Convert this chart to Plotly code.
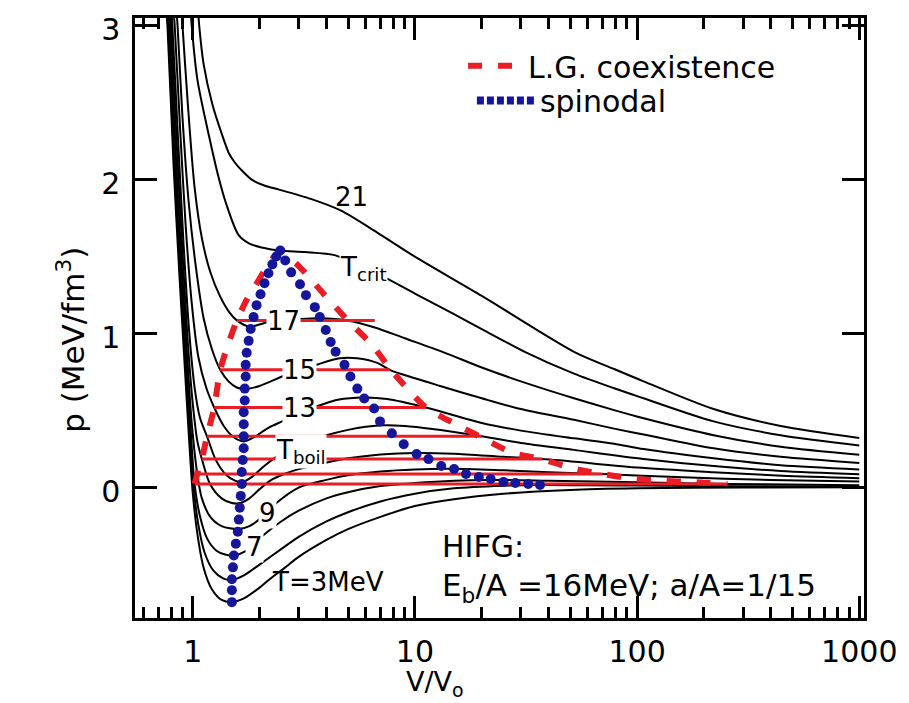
import plotly.graph_objects as go

FONT = "DejaVu Sans"

# ---------------- isotherms (V/Vo , p in MeV/fm^3) ----------------
T21_x = [1.06, 1.07, 1.12, 1.226, 1.35, 1.457, 1.55, 1.65, 1.843, 2.1, 2.43, 3.40, 4.63, 6.77, 10, 20, 52.3, 78.8, 107, 221, 443, 1000]
T21_p = [3.08, 3.0, 2.75, 2.49, 2.3, 2.17, 2.11, 2.065, 2.0, 1.962, 1.937, 1.875, 1.80, 1.656, 1.50, 1.245, 0.88, 0.77, 0.69, 0.51, 0.40, 0.322]

Tcrit_x = [0.98, 0.99, 1.05, 1.186, 1.3, 1.41, 1.61, 1.8, 2.04, 2.48, 3.2, 4.35, 5.5, 7.0, 10, 15, 20, 31.4, 52, 78.8, 107, 221, 443, 1000]
Tcrit_p = [3.1, 3.0, 2.65, 2.28, 2.03, 1.85, 1.64, 1.585, 1.56, 1.54, 1.53, 1.51, 1.45, 1.38, 1.26, 1.126, 1.03, 0.88, 0.74, 0.645, 0.58, 0.43, 0.34, 0.274]

T17_x = [0.89, 0.90, 0.95, 1.02, 1.1, 1.2, 1.33, 1.46, 1.58, 1.8, 2.19, 3.07, 3.7, 4.97, 6.6, 9, 13.4, 20, 30, 52, 78.8, 107, 221, 443, 1000]
T17_p = [3.1, 3.0, 2.5, 1.95, 1.62, 1.4, 1.24, 1.14, 1.086, 1.045, 1.075, 1.095, 1.10, 1.086, 1.04, 0.97, 0.88, 0.78, 0.69, 0.58, 0.503, 0.45, 0.34, 0.265, 0.213]

T15_x = [0.845, 0.855, 0.9, 0.96, 1.03, 1.12, 1.22, 1.33, 1.45, 1.58, 1.715, 2.0, 2.61, 3.64, 4.6, 5.5, 6.77, 7.7, 10, 13, 20, 30, 52, 78.8, 107, 221, 443, 1000]
T15_p = [3.1, 3.0, 2.4, 1.85, 1.45, 1.1, 0.9, 0.765, 0.69, 0.65, 0.64, 0.66, 0.73, 0.80, 0.84, 0.84, 0.81, 0.765, 0.71, 0.66, 0.58, 0.51, 0.44, 0.383, 0.345, 0.255, 0.20, 0.160]

T13_x = [0.82, 0.83, 0.88, 0.93, 0.99, 1.06, 1.15, 1.25, 1.38, 1.52, 1.70, 1.9, 2.2, 2.61, 3.0, 3.66, 4.5, 5.9, 7.5, 11.2, 20, 30, 52, 78.8, 107, 221, 443, 1000]
T13_p = [3.1, 3.0, 2.3, 1.7, 1.2, 0.85, 0.65, 0.52, 0.40, 0.33, 0.30, 0.33, 0.39, 0.44, 0.49, 0.53, 0.57, 0.585, 0.575, 0.52, 0.42, 0.37, 0.32, 0.285, 0.25, 0.19, 0.145, 0.118]

T11_x = [0.80, 0.81, 0.86, 0.91, 0.96, 1.02, 1.08, 1.16, 1.27, 1.42, 1.55, 1.663, 1.85, 2.1, 2.5, 3.0, 4.0, 5.0, 6.0, 7.3, 9, 12, 20, 30, 52, 107, 221, 443, 1000]
T11_p = [3.1, 3.0, 2.25, 1.58, 1.05, 0.65, 0.45, 0.333, 0.18, 0.08, 0.045, 0.035, 0.07, 0.14, 0.22, 0.28, 0.34, 0.375, 0.395, 0.405, 0.40, 0.38, 0.333, 0.29, 0.245, 0.186, 0.14, 0.108, 0.087]

Tboil_x = [0.79, 0.80, 0.85, 0.90, 0.95, 1.0, 1.05, 1.10, 1.2, 1.35, 1.5, 1.64, 1.8, 2.0, 2.26, 2.6, 3.0, 3.93, 5.0, 7.0, 10.2, 15, 25, 37.5, 60, 100, 220, 450, 1000]
Tboil_p = [3.1, 3.0, 2.2, 1.52, 0.95, 0.55, 0.3, 0.185, 0.02, -0.07, -0.10, -0.10, -0.07, -0.01, 0.05, 0.09, 0.12, 0.16, 0.19, 0.215, 0.225, 0.22, 0.2, 0.185, 0.16, 0.13, 0.10, 0.077, 0.061]

T9_x = [0.78, 0.79, 0.84, 0.89, 0.94, 0.99, 1.049, 1.1, 1.2, 1.35, 1.6, 1.8, 2.02, 2.38, 3.0, 4.0, 5.0, 7.0, 10, 15, 25, 40, 70, 150, 400, 1000]
T9_p = [3.1, 3.0, 2.15, 1.48, 0.9, 0.42, 0.088, -0.07, -0.19, -0.25, -0.27, -0.25, -0.2, -0.1, 0.0, 0.05, 0.08, 0.105, 0.118, 0.122, 0.112, 0.1, 0.088, 0.068, 0.05, 0.039]

T7_x = [0.77, 0.78, 0.83, 0.88, 0.93, 0.975, 1.02, 1.08, 1.16, 1.28, 1.4, 1.532, 1.75, 2.04, 2.5, 3, 4, 5, 7, 10, 15, 22, 40, 100, 255, 1000]
T7_p = [3.1, 3.0, 2.12, 1.45, 0.87, 0.42, 0.024, -0.19, -0.33, -0.41, -0.435, -0.44, -0.41, -0.32, -0.22, -0.15, -0.07, -0.03, 0.01, 0.03, 0.045, 0.05, 0.045, 0.035, 0.024, 0.016]

T5_x = [0.765, 0.775, 0.825, 0.875, 0.925, 0.965, 1.01, 1.06, 1.13, 1.24, 1.37, 1.50, 1.7, 2.0, 2.5, 3, 4, 5, 7, 10, 15, 25, 36.6, 60, 100, 300, 1000]
T5_p = [3.1, 3.0, 2.1, 1.42, 0.83, 0.4, 0.0, -0.24, -0.42, -0.54, -0.59, -0.60, -0.57, -0.50, -0.40, -0.32, -0.22, -0.16, -0.09, -0.04, -0.005, 0.012, 0.017, 0.015, 0.013, 0.009, 0.006]

T3_x = [0.76, 0.77, 0.82, 0.87, 0.92, 0.96, 1.0, 1.05, 1.12, 1.22, 1.35, 1.50, 1.7, 2.0, 2.2, 2.6, 3.0, 4.0, 5.0, 7.0, 10, 15, 25, 50, 100, 300, 1000]
T3_p = [3.1, 3.0, 2.1, 1.4, 0.8, 0.35, -0.03, -0.3, -0.52, -0.66, -0.73, -0.744, -0.72, -0.65, -0.60, -0.52, -0.45, -0.34, -0.27, -0.19, -0.12, -0.075, -0.04, -0.015, -0.005, 0.0, 0.002]

isotherms = [(T21_x, T21_p), (Tcrit_x, Tcrit_p), (T17_x, T17_p), (T15_x, T15_p),
             (T13_x, T13_p), (T11_x, T11_p), (Tboil_x, Tboil_p), (T9_x, T9_p),
             (T7_x, T7_p), (T5_x, T5_p), (T3_x, T3_p)]

# ---------------- Maxwell (coexistence) horizontal lines ----------------
maxwell_p = [1.086, 0.765, 0.52, 0.333, 0.185, 0.088, 0.024]
maxwell_xl = [1.58, 1.33, 1.25, 1.16, 1.10, 1.049, 1.02]
maxwell_xr = [6.6, 7.7, 11.2, 20.0, 37.5, 70.0, 255.0]

# ---------------- L.G. coexistence curve ----------------
coex_x = [1.02, 1.049, 1.10, 1.16, 1.25, 1.33, 1.456, 1.58, 1.75, 1.92, 2.19, 2.45, 2.98, 3.93, 4.97, 6.42, 7.8, 11.2, 15.0, 19.5, 27.7, 37.5, 51, 70, 96, 130, 175, 255]
coex_p = [0.024, 0.088, 0.185, 0.333, 0.52, 0.765, 0.946, 1.086, 1.22, 1.314, 1.449, 1.53, 1.443, 1.25, 1.088, 0.927, 0.765, 0.52, 0.418, 0.333, 0.224, 0.185, 0.125, 0.088, 0.058, 0.045, 0.036, 0.024]

# ---------------- spinodal (dots) ----------------
spin_x = [1.501, 1.501, 1.501, 1.517, 1.532, 1.564, 1.596, 1.613, 1.629, 1.646, 1.663, 1.663, 1.680, 1.697,
          1.697, 1.697, 1.697, 1.715, 1.715, 1.732, 1.732, 1.750, 1.786, 1.824, 1.880, 1.939, 2.020, 2.105,
          2.193, 2.284, 2.379, 2.479,
          2.609, 2.774, 3.041, 3.234, 3.546, 3.733, 3.970, 4.178, 4.397, 4.822, 5.127, 5.507, 5.916, 6.553,
          6.968, 7.878, 8.909, 10.18, 11.51, 13.14, 15.01, 16.98, 19.40, 21.93, 25.05, 28.31, 32.35, 36.57]
spin_p = [-0.744, -0.666, -0.595, -0.518, -0.441, -0.364, -0.286, -0.208, -0.131, -0.054, 0.024, 0.101, 0.179, 0.256,
          0.334, 0.411, 0.489, 0.566, 0.643, 0.721, 0.798, 0.876, 0.953, 1.030, 1.108, 1.185, 1.256, 1.327,
          1.392, 1.450, 1.501, 1.540,
          1.475, 1.398, 1.321, 1.250, 1.172, 1.108, 1.024, 0.946, 0.882, 0.798, 0.721, 0.643, 0.579, 0.514,
          0.430, 0.353, 0.282, 0.218, 0.185, 0.140, 0.121, 0.088, 0.069, 0.056, 0.037, 0.030, 0.024, 0.017]

# ---------------- axes ----------------
x_tickvals = [1, 10, 100, 1000]
x_ticktext = ["1", "10", "100", "1000"]
x_minor = [0.6, 0.7, 0.8, 0.9] + [k for k in range(2, 10)] + [10 * k for k in range(2, 10)] + [100 * k for k in range(2, 10)]
y_tickvals = [0, 1, 2, 3]

RED = "#ea1c24"
BLUE = "#16169a"

fig = go.Figure()

for xs, ps in isotherms:
    fig.add_trace(go.Scatter(x=xs, y=ps, mode="lines", showlegend=False, hoverinfo="skip",
                             line=dict(color="black", width=2, shape="spline", smoothing=0.8)))

for lvl, xl, xr in zip(maxwell_p, maxwell_xl, maxwell_xr):
    fig.add_trace(go.Scatter(x=[xl, xr], y=[lvl, lvl], mode="lines", showlegend=False, hoverinfo="skip",
                             line=dict(color=RED, width=3)))

fig.add_trace(go.Scatter(x=coex_x, y=coex_p, mode="lines", name="L.G. coexistence", legend="legend",
                         line=dict(color=RED, width=6, dash="14px,16px", shape="spline", smoothing=0.6)))

fig.add_trace(go.Scatter(x=spin_x, y=spin_p, mode="markers", showlegend=False, legendgroup="sp",
                         marker=dict(color=BLUE, size=10)))
fig.add_trace(go.Scatter(x=[None], y=[None], mode="lines", name="spinodal", legendgroup="sp",
                         legend="legend2", line=dict(color=BLUE, width=8, dash="7px,3px")))

# pixel -> paper helpers (plot area 135..875 x 14..618)
L, R, T, B = 135, 875, 14, 618
def px(v):
    return (v - L) / (R - L)
def py(v):
    return 1 - (v - T) / (B - T)

lab_font = dict(family=FONT, size=26, color="black")
labels = [
    ("21", 355, 194, None),
    ("T<sub>crit</sub>", 367, 266, "white"),
    ("17", 286, 319, "white"),
    ("15", 302, 368, "white"),
    ("13", 302, 407, "white"),
    ("T<sub>boil</sub>", 303, 450, "white"),
    ("9", 270, 512, "white"),
    ("7", 256, 547, "white"),
    ("T=3MeV", 331, 582, None),
]
annotations = []
for txt, xx, yy, bg in labels:
    a = dict(text=txt, x=px(xx), y=py(yy), xref="paper", yref="paper", showarrow=False,
             xanchor="center", yanchor="middle", font=lab_font, borderpad=0)
    if bg:
        a["bgcolor"] = bg
    annotations.append(a)

big = dict(family=FONT, size=30, color="black")
annotations += [
    dict(text="HIFG:", x=px(446), y=py(565), xref="paper", yref="paper", showarrow=False,
         xanchor="left", yanchor="bottom", font=big, borderpad=0),
    dict(text="E<sub>b</sub>/A =16MeV; a/A=1/15", x=px(446), y=py(566), xref="paper", yref="paper",
         showarrow=False, xanchor="left", yanchor="top", font=dict(family=FONT, size=31, color="black"),
         borderpad=0),
    dict(text="V/V<sub>o</sub>", x=px(440), y=py(703), xref="paper", yref="paper", showarrow=False,
         xanchor="center", yanchor="bottom", font=dict(family=FONT, size=27, color="black"), borderpad=0),
    dict(text="p (MeV/fm<sup>3</sup>)", x=px(70), y=py(338), xref="paper", yref="paper", showarrow=False,
         xanchor="center", yanchor="middle", textangle=-90, font=dict(family=FONT, size=31, color="black")),
]

axis_common = dict(showline=True, linecolor="black", linewidth=2.5, mirror="ticks", ticks="inside",
                   tickcolor="black", tickwidth=2.5, ticklen=22, showgrid=False, zeroline=False,
                   tickfont=dict(family=FONT, size=30, color="black"))

fig.update_xaxes(type="log", range=[-0.2596, 3.0212], tickmode="array", tickvals=x_tickvals,
                 ticktext=x_ticktext, ticklabelstandoff=5,
                 minor=dict(tickmode="array", tickvals=x_minor, ticks="inside", ticklen=11,
                            tickwidth=2.5, tickcolor="black", showgrid=False),
                 **axis_common)
fig.update_yaxes(range=[-0.847, 3.05], tickmode="array", tickvals=y_tickvals, ticklabelstandoff=6,
                 ticklabelshift=4, **axis_common)

leg_font = dict(family=FONT, size=30, color="black")
fig.update_layout(
    width=909, height=703,
    margin=dict(l=L, r=909 - R, t=T, b=703 - B),
    paper_bgcolor="white", plot_bgcolor="white",
    annotations=annotations,
    legend=dict(x=px(468), y=py(36), xanchor="left", yanchor="top", itemwidth=55,
                font=leg_font, bgcolor="rgba(0,0,0,0)"),
    legend2=dict(x=px(477), y=py(71), xanchor="left", yanchor="top", itemwidth=58,
                 font=leg_font, bgcolor="rgba(0,0,0,0)"),
    font=dict(family=FONT),
)

fig.write_html("out.html")
